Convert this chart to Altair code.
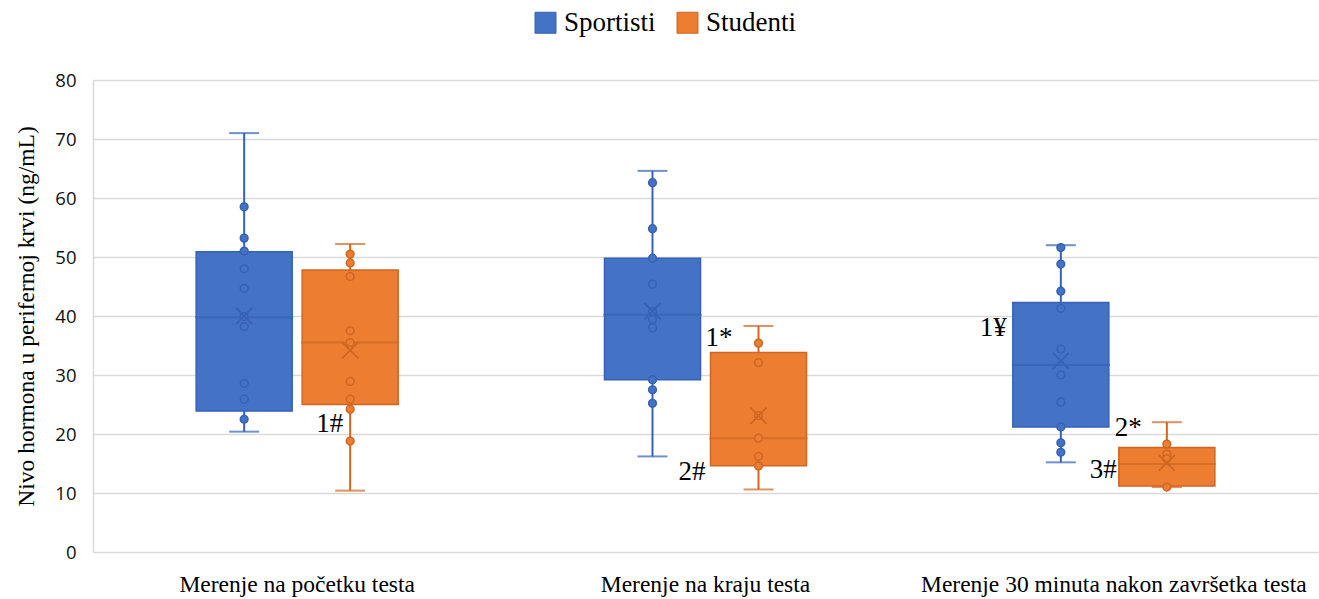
import altair as alt
import pandas as pd

# Measurement time points and groups
categories = [
    "Merenje na početku testa",
    "Merenje na kraju testa",
    "Merenje 30 minuta nakon završetka testa",
]
groups = ["Sportisti", "Studenti"]

# Box statistics per time point (ng/mL)
sport_min = [20.4, 16.2, 15.2]
sport_q1 = [23.9, 29.2, 21.2]
sport_med = [39.8, 40.2, 31.7]
sport_q3 = [50.9, 49.8, 42.3]
sport_max = [71.0, 64.6, 52.0]
sport_mean = [40.0, 40.8, 32.4]

stud_min = [10.4, 10.6, 11.0]
stud_q1 = [25.0, 14.6, 11.2]
stud_med = [35.5, 19.3, 14.9]
stud_q3 = [47.8, 33.8, 17.7]
stud_max = [52.2, 38.3, 22.0]
stud_mean = [34.2, 23.1, 15.1]

# Individual measurements shown as points
sport_points = [
    [58.5, 53.2, 51.0, 48.0, 44.7, 39.9, 38.2, 28.6, 25.9, 22.5],
    [62.6, 54.8, 49.8, 45.4, 40.8, 39.4, 38.0, 29.2, 27.5, 25.2],
    [51.6, 48.8, 44.2, 41.3, 34.4, 30.0, 25.4, 21.2, 18.5, 16.9],
]
stud_points = [
    [50.5, 49.0, 46.7, 37.5, 35.5, 28.9, 25.9, 24.2, 18.8],
    [35.4, 32.1, 23.1, 19.3, 16.2, 14.6],
    [18.3, 16.6, 15.8, 11.0],
]

# Significance markers: text, time point index, group, value level
note_text = ["1#", "1*", "2#", "1¥", "2*", "3#"]
note_cat = [0, 1, 1, 2, 2, 2]
note_group = ["Studenti", "Studenti", "Studenti", "Sportisti", "Studenti", "Studenti"]
note_level = [21.7, 36.3, 13.6, 38.0, 21.0, 13.9]
note_dx = [-7, -26, -53, -54, -25, -50]

fill_colors = ["#4472C4", "#ED7D31"]
line_colors = ["#3562B4", "#CF6622"]

stats_rows = []
for g, (mn, q1, md, q3, mx, me) in zip(
    groups,
    [
        (sport_min, sport_q1, sport_med, sport_q3, sport_max, sport_mean),
        (stud_min, stud_q1, stud_med, stud_q3, stud_max, stud_mean),
    ],
):
    for i, c in enumerate(categories):
        stats_rows.append(
            dict(cat=c, grp=g, lo=mn[i], q1=q1[i], med=md[i], q3=q3[i], hi=mx[i], mean=me[i])
        )
stats = pd.DataFrame(stats_rows)

pt_rows = []
for g, pts in zip(groups, [sport_points, stud_points]):
    for i, c in enumerate(categories):
        for v in pts[i]:
            pt_rows.append(dict(cat=c, grp=g, val=v))
points = pd.DataFrame(pt_rows)

x_enc = alt.X(
    "cat:N",
    sort=categories,
    scale=alt.Scale(domain=categories, paddingInner=0, paddingOuter=0),
    axis=alt.Axis(
        title=None,
        labelAngle=0,
        ticks=False,
        domain=False,
        labelFont="Liberation Serif",
        labelFontSize=23.5,
        labelColor="#000000",
        labelPadding=20,
        labelLimit=600,
    ),
)
xoff = alt.XOffset(
    "grp:N",
    scale=alt.Scale(domain=groups, paddingInner=0.094, paddingOuter=0.973),
)
y_scale = alt.Scale(domain=[0, 80], nice=False)

legend_spec = alt.Legend(
    title=None,
    orient="none",
    legendX=439,
    legendY=-71,
    direction="horizontal",
    symbolType="square",
    symbolSize=440,
    symbolStrokeWidth=1,
    symbolOpacity=1,
    labelFont="Liberation Serif",
    labelFontSize=27,
    labelColor="#000000",
    labelOffset=5,
    columnPadding=18,
)

# fill colour of boxes and dots
color_enc = alt.Color(
    "grp:N",
    scale=alt.Scale(domain=groups, range=fill_colors),
    legend=legend_spec,
)
# darker line colour for whiskers, borders, caps, medians, means
stroke_enc = alt.Stroke(
    "grp:N",
    scale=alt.Scale(domain=groups, range=line_colors),
    legend=legend_spec,
)

base = alt.Chart(stats)

whiskers = base.mark_rule(strokeWidth=2).encode(
    x=x_enc,
    xOffset=xoff,
    y=alt.Y(
        "lo:Q",
        scale=y_scale,
        axis=alt.Axis(
            title="Nivo hormona u perifernoj krvi (ng/mL)",
            values=list(range(0, 81, 10)),
            ticks=False,
            domain=True,
            domainColor="#D9D9D9",
            domainWidth=1.5,
            gridColor="#D9D9D9",
            gridWidth=1.5,
            labelFont="Open Sans",
            labelFontSize=18.5,
            labelColor="#111111",
            labelPadding=17,
            titleFont="Liberation Serif",
            titleFontSize=23.5,
            titleFontWeight="normal",
            titleColor="#000000",
            titlePadding=16,
        ),
    ),
    y2="hi:Q",
    stroke=stroke_enc,
)

# caps and medians: zero-height ticks drawn by their outline only
caps_top = base.mark_tick(size=28, thickness=0.01, filled=False, strokeWidth=2).encode(
    x=x_enc, xOffset=xoff, y=alt.Y("hi:Q", scale=y_scale), stroke=stroke_enc
)
caps_bot = base.mark_tick(size=28, thickness=0.01, filled=False, strokeWidth=2).encode(
    x=x_enc, xOffset=xoff, y=alt.Y("lo:Q", scale=y_scale), stroke=stroke_enc
)

boxes = base.mark_bar(strokeWidth=1.5, opacity=1).encode(
    x=x_enc,
    xOffset=xoff,
    y=alt.Y("q1:Q", scale=y_scale),
    y2="q3:Q",
    color=color_enc,
    stroke=stroke_enc,
)

medians = base.mark_tick(size=96, thickness=0.01, filled=False, strokeWidth=2).encode(
    x=x_enc,
    xOffset=xoff,
    y=alt.Y("med:Q", scale=y_scale),
    stroke=stroke_enc,
)

dots = alt.Chart(points).mark_point(
    shape="circle", filled=True, size=60, strokeWidth=1.5, opacity=1
).encode(
    x=x_enc,
    xOffset=xoff,
    y=alt.Y("val:Q", scale=y_scale),
    color=color_enc,
    stroke=stroke_enc,
)

means = base.mark_point(
    shape="M-1,-1L1,1M-1,1L1,-1", filled=False, size=260, strokeWidth=1.8, opacity=1
).encode(
    x=x_enc,
    xOffset=xoff,
    y=alt.Y("mean:Q", scale=y_scale),
    stroke=stroke_enc,
)

layers = [whiskers, caps_top, caps_bot, boxes, medians, dots, means]

for t, ci, g, lv, dx in zip(note_text, note_cat, note_group, note_level, note_dx):
    df = pd.DataFrame([dict(cat=categories[ci], grp=g, val=lv, label=t)])
    layers.append(
        alt.Chart(df)
        .mark_text(
            align="right",
            baseline="middle",
            dx=dx,
            font="Liberation Serif",
            fontSize=27,
            color="#000000",
        )
        .encode(x=x_enc, xOffset=xoff, y=alt.Y("val:Q", scale=y_scale), text="label:N")
    )

chart = (
    alt.layer(*layers)
    .properties(
        width=1225,
        height=472,
        autosize=alt.AutoSizeParams(type="none"),
        padding={"left": 93, "top": 80, "right": 1, "bottom": 47},
    )
    .configure_view(stroke=None)
)

chart.save("out.html", embed_options={"renderer": "svg", "actions": False})
